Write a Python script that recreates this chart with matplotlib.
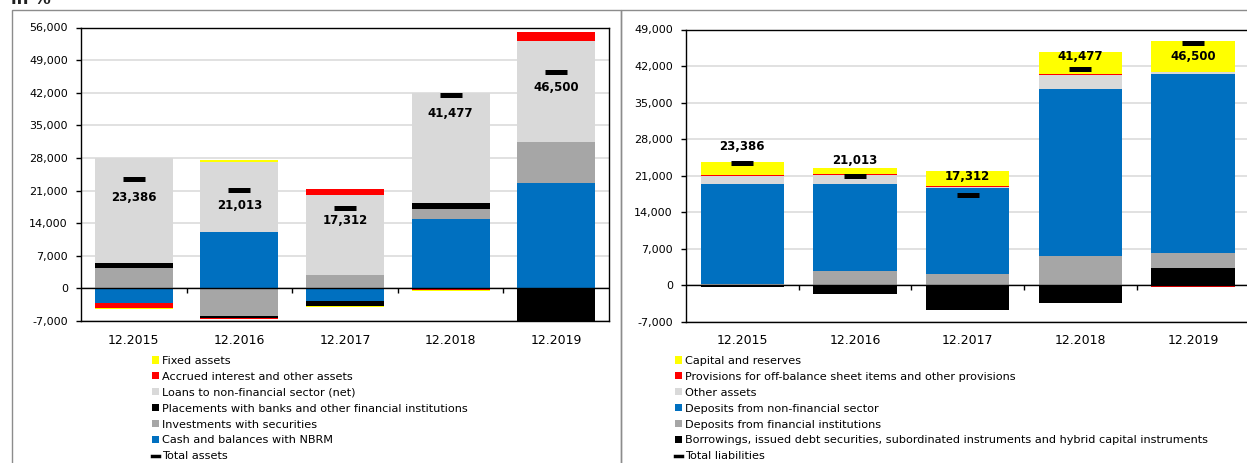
"""Stacked bar charts of year-over-year changes in bank assets and liabilities.

Each bar splits the change into its components; positive and negative
components are stacked on separate sides of the zero line, and a black dash
marks the total change for the year.
"""

from __future__ import annotations

import matplotlib

matplotlib.use("Agg")

import matplotlib.pyplot as plt
from matplotlib.lines import Line2D
from matplotlib.patches import Patch, Rectangle
from matplotlib.ticker import FuncFormatter

plt.rcParams["font.family"] = ["DejaVu Sans"]

W, H, DPI = 1247, 463, 100

YEARS = ["12.2015", "12.2016", "12.2017", "12.2018", "12.2019"]

# assets side, bottom-to-top stacking order
cash_nbrm = [-3150, 12100, -2650, 14900, 22700]
investments = [4440, -5940, 2940, 2080, 8660]
placements = [1075, -360, -1150, 1360, -8630]
loans = [22400, 15000, 17190, 23630, 21770]
accrued_interest = [-1000, -360, 1290, -360, 2000]
fixed_assets = [-290, 500, -290, -215, 0]
total_assets = [23386, 21013, 17312, 41477, 46500]

# liabilities side, bottom-to-top stacking order
borrowings = [-320, -1590, -4780, -3380, 3380]
deposits_fin = [250, 2800, 2170, 5610, 2800]
deposits_nonfin = [19120, 16570, 16500, 32050, 34220]
other_liab = [1590, 1780, 190, 2550, 380]
provisions = [130, 130, 130, 190, -250]
capital = [2480, 1270, 2930, 4330, 5930]
total_liabilities = [23386, 21013, 17312, 41477, 46500]

YELLOW, RED, LIGHT, BLACK, GREY, BLUE = "#ffff00", "#ff0000", "#d9d9d9", "#000000", "#a6a6a6", "#0070c0"

ASSET_SERIES = [
    ("Cash and balances with NBRM", cash_nbrm, BLUE),
    ("Investments with securities", investments, GREY),
    ("Placements with banks and other financial institutions", placements, BLACK),
    ("Loans to non-financial sector (net)", loans, LIGHT),
    ("Accrued interest and other assets", accrued_interest, RED),
    ("Fixed assets", fixed_assets, YELLOW),
]
LIAB_SERIES = [
    ("Borrowings, issued debt securities, subordinated instruments and hybrid capital instruments", borrowings, BLACK),
    ("Deposits from financial institutions", deposits_fin, GREY),
    ("Deposits from non-financial sector", deposits_nonfin, BLUE),
    ("Other assets", other_liab, LIGHT),
    ("Provisions for off-balance sheet items and other provisions", provisions, RED),
    ("Capital and reserves", capital, YELLOW),
]

# vertical label offsets from the total dash, in points
ASSET_LABEL_DY = [-13, -11, -9, -13, -11]
LIAB_LABEL_DY = [12, 11, 13, 9, -10]


def px_box(left, top, right, bottom):
    """Figure-fraction rect from pixel edges measured from the top-left."""
    return [left / W, 1 - bottom / H, (right - left) / W, (bottom - top) / H]


def draw_panel(ax, series, totals, ylim, label_dy):
    """Draw one stacked panel with totals and value labels."""
    x = list(range(len(YEARS)))
    pos = [0.0] * len(x)
    neg = [0.0] * len(x)
    for name, values, color in series:
        bottoms = []
        for i, v in enumerate(values):
            if v >= 0:
                bottoms.append(pos[i])
                pos[i] += v
            else:
                bottoms.append(neg[i])
                neg[i] += v
        ax.bar(x, values, bottom=bottoms, width=0.74, color=color, linewidth=0, label=name, zorder=2)

    ax.plot(x, totals, linestyle="none", marker="_", ms=16.5, mew=3.6, color="black", zorder=4)
    for i, t in enumerate(totals):
        ax.annotate(f"{t:,}", (i, t), xytext=(0, label_dy[i]), textcoords="offset points",
                    ha="center", va="center", fontsize=8.5, fontweight="bold", zorder=5)

    ax.set_xlim(-0.5, len(x) - 0.5)
    ax.set_ylim(*ylim)
    ax.set_yticks(range(ylim[0], ylim[1] + 1, 7000))
    ax.yaxis.set_major_formatter(FuncFormatter(lambda v, _: f"{v:,.0f}"))
    ax.set_xticks(x)
    ax.set_xticklabels(YEARS, fontsize=9)
    ax.tick_params(axis="x", length=0, pad=9)
    ax.tick_params(axis="y", length=3.6, width=1, pad=5.8, labelsize=8)
    ax.grid(axis="y", color="#d9d9d9", linewidth=1.1, zorder=0)
    ax.set_axisbelow(True)
    for spine in ax.spines.values():
        spine.set_color("black")
        spine.set_linewidth(1)

    # zero line with category-boundary tick marks
    ax.axhline(0, color="black", linewidth=1, zorder=3)
    bounds = [i + 0.5 for i in x[:-1]]
    ax.plot(bounds, [0] * len(bounds), linestyle="none", marker=3, ms=3.6, mew=1, color="black", zorder=3)


def add_legend(fig, series, total_label, x_px, y_px):
    """Legend listing the components top-down plus the total dash."""
    handles = [Patch(facecolor=c, edgecolor="none", label=n) for n, _, c in reversed(series)]
    handles.append(Line2D([], [], color="black", linewidth=2.5, label=total_label))
    fig.legend(handles=handles, loc="upper left", bbox_to_anchor=(x_px / W, 1 - y_px / H),
               frameon=False, fontsize=8.15, borderpad=0, borderaxespad=0, labelspacing=0.52,
               handlelength=0.6, handleheight=0.6, handletextpad=0.3)


def main() -> None:
    fig = plt.figure(figsize=(W / DPI, H / DPI), dpi=DPI)

    # panel frames
    for left, right in [(12, 621), (621, W + 20)]:
        fig.add_artist(Rectangle((left / W, -0.1), (right - left) / W, 1.1 - 10 / H,
                                 transform=fig.transFigure, fill=False, edgecolor="#8c8c8c", linewidth=1))
    fig.text(11 / W, 1 - 4 / H, "in %", fontsize=12, fontweight="bold", color="#202020", va="baseline")

    ax_a = fig.add_axes(px_box(81, 27.5, 609, 321))
    draw_panel(ax_a, ASSET_SERIES, total_assets, (-7000, 56000), ASSET_LABEL_DY)

    ax_l = fig.add_axes(px_box(686, 29.5, 1249.5, 322))
    draw_panel(ax_l, LIAB_SERIES, total_liabilities, (-7000, 49000), LIAB_LABEL_DY)

    add_legend(fig, ASSET_SERIES, "Total assets", 152, 356)
    add_legend(fig, LIAB_SERIES, "Total liabilities", 675, 356)

    fig.savefig("out.png", dpi=DPI)
    plt.close(fig)


if __name__ == "__main__":
    main()
